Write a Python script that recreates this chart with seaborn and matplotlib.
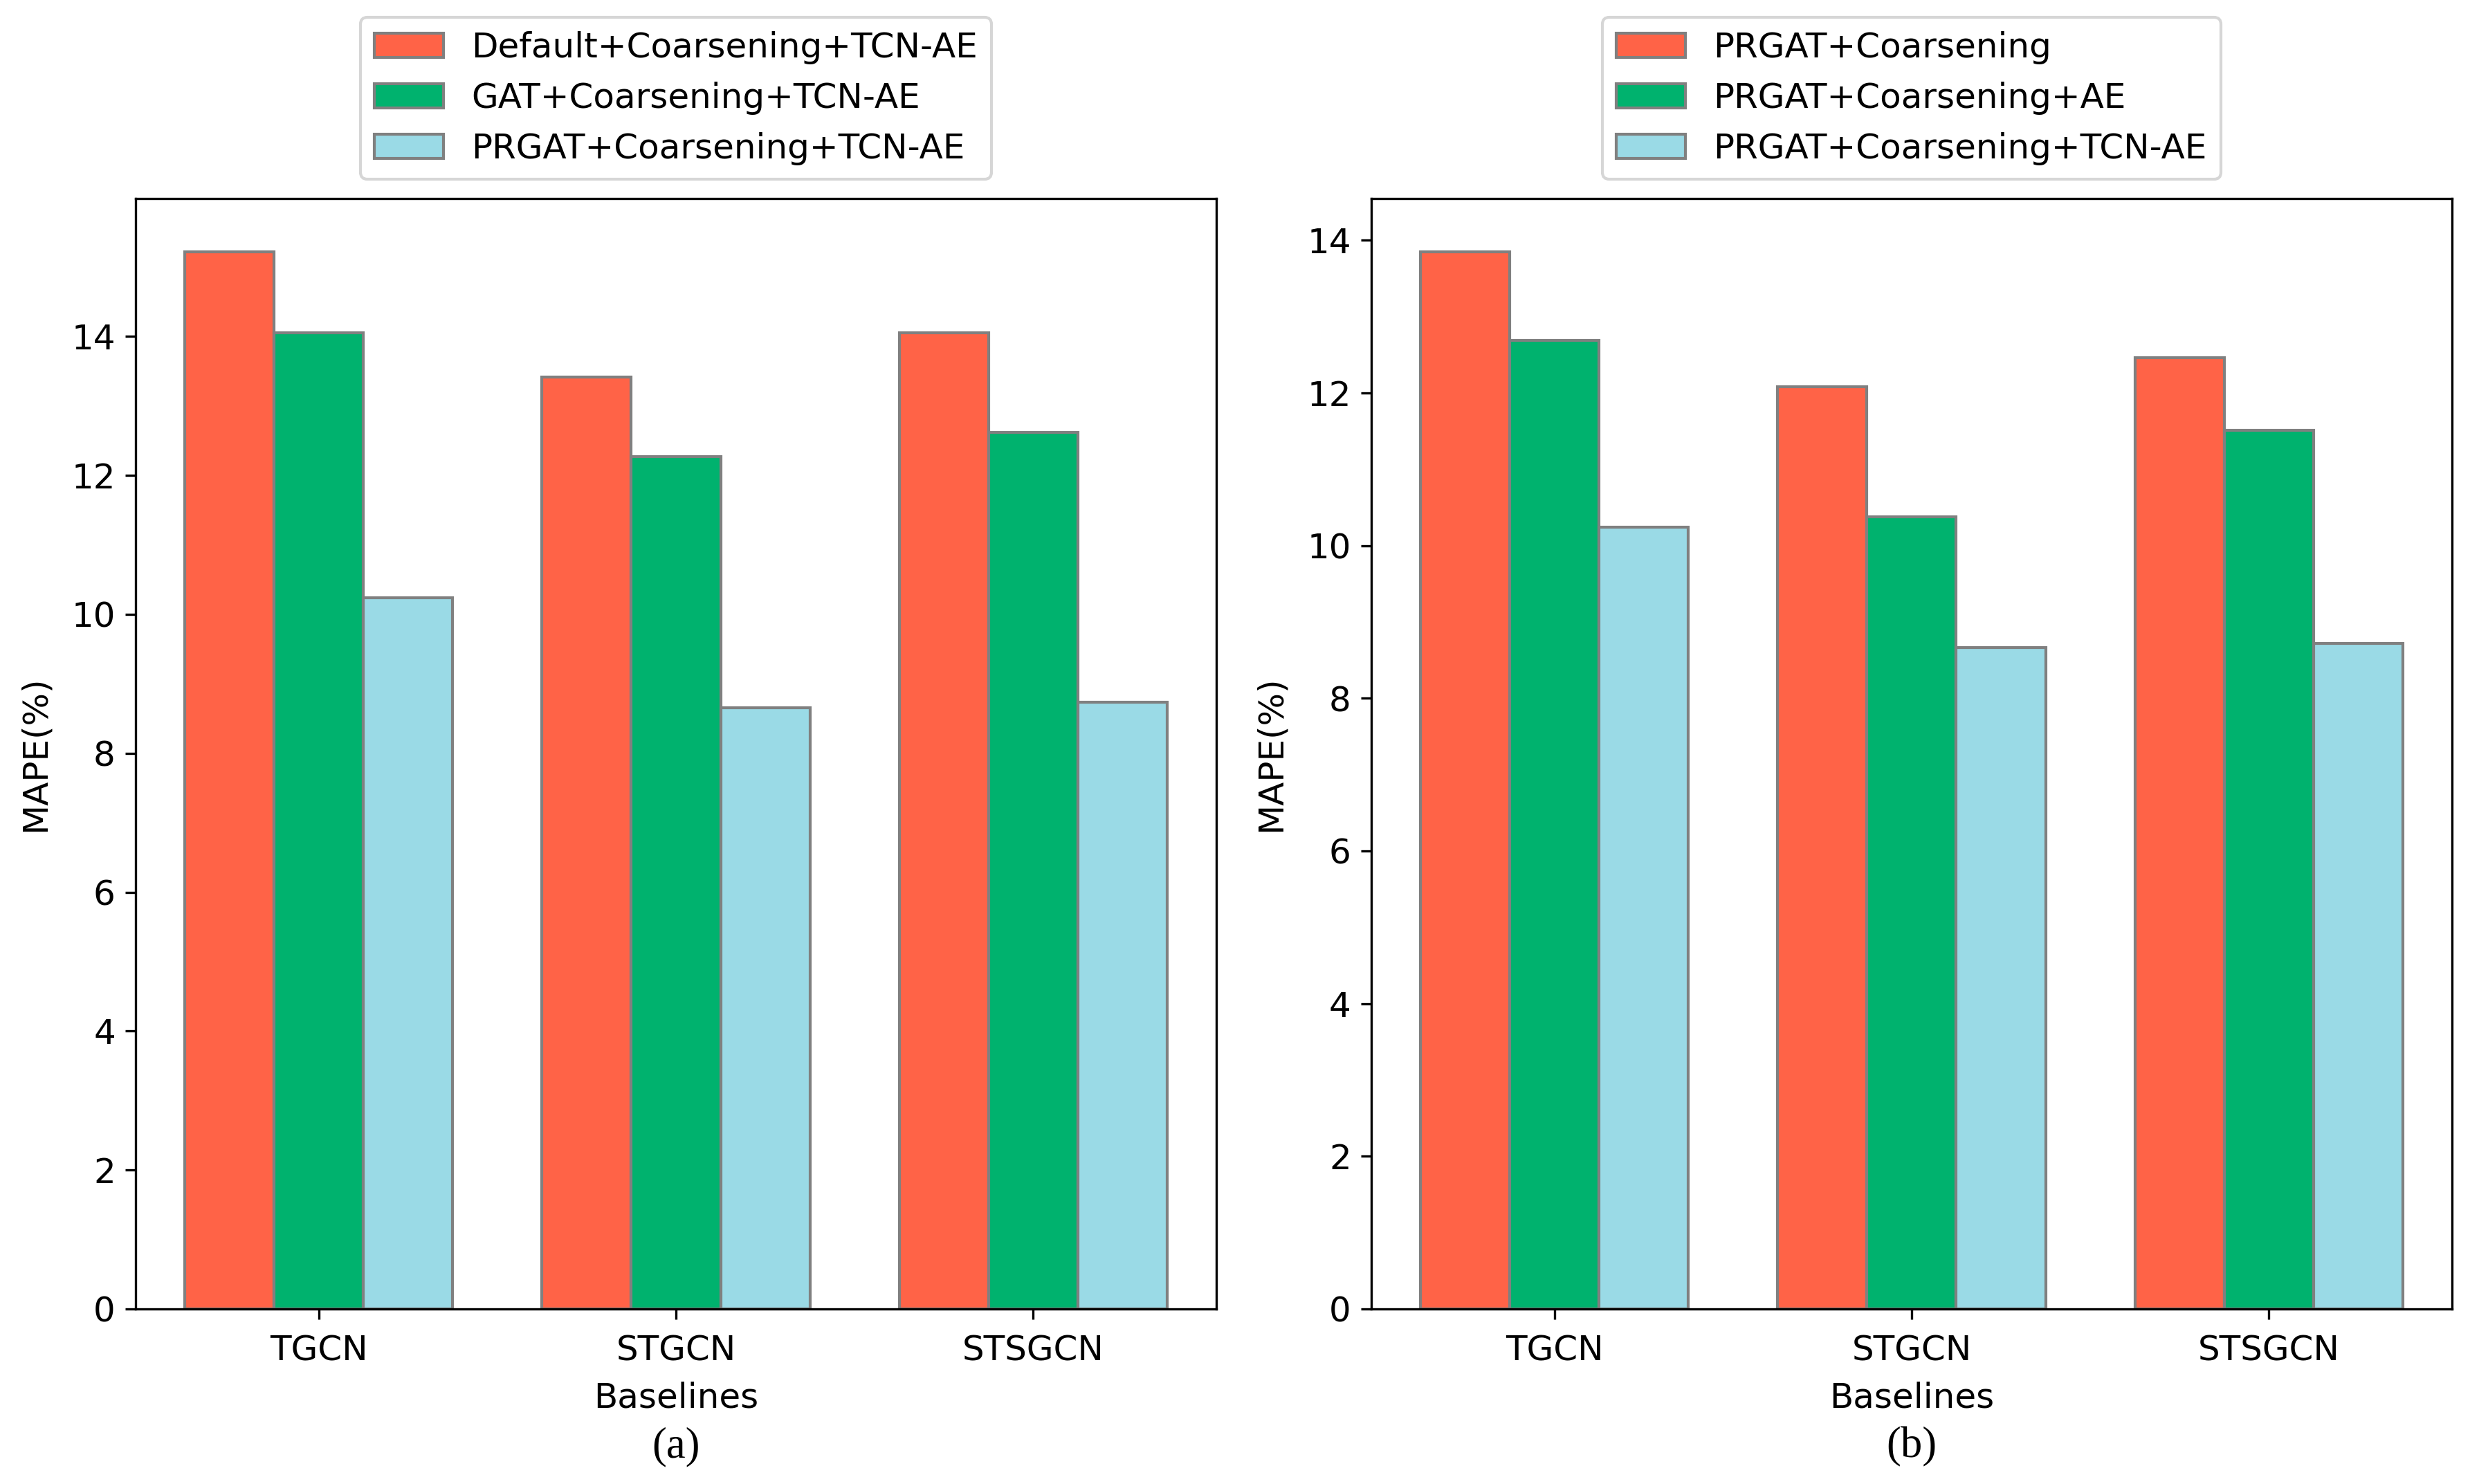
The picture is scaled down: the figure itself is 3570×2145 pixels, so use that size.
import numpy as np
import pandas as pd
import seaborn as sns
import matplotlib.pyplot as plt

# data
baselines = ['TGCN', 'STGCN', 'STSGCN']

labels_a = ['Default+Coarsening+TCN-AE', 'GAT+Coarsening+TCN-AE', 'PRGAT+Coarsening+TCN-AE']
default_tcn = [15.22, 13.42, 14.05]
gat_tcn = [14.05, 12.27, 12.62]
prgat_tcn_a = [10.24, 8.65, 8.73]

labels_b = ['PRGAT+Coarsening', 'PRGAT+Coarsening+AE', 'PRGAT+Coarsening+TCN-AE']
prgat_coarse = [13.85, 12.08, 12.46]
prgat_ae = [12.69, 10.38, 11.51]
prgat_tcn_b = [10.24, 8.66, 8.72]

colors = ['#FF6347', '#00B26E', '#9ADAE6']


def make_frame(labels, series):
    rows = []
    for lab, vals in zip(labels, series):
        for b, v in zip(baselines, vals):
            rows.append({'Baselines': b, 'MAPE': v, 'model': lab})
    return pd.DataFrame(rows)


plt.rcParams['font.size'] = 12

fig, axes = plt.subplots(1, 2, figsize=(11.9, 7.15), dpi=300)
fig.subplots_adjust(left=0.0549, right=0.9927, bottom=0.118, top=0.866, wspace=0.1434)

panels = [
    (make_frame(labels_a, [default_tcn, gat_tcn, prgat_tcn_a]), labels_a, '(a)'),
    (make_frame(labels_b, [prgat_coarse, prgat_ae, prgat_tcn_b]), labels_b, '(b)'),
]

for ax, (df, labels, tag) in zip(axes, panels):
    sns.barplot(data=df, x='Baselines', y='MAPE', hue='model', hue_order=labels,
                palette=colors, saturation=1, width=0.75, errorbar=None,
                edgecolor='grey', linewidth=1.0, ax=ax)
    ax.set_xlim(-0.5125, 2.5125)
    ax.set_ylabel('MAPE(%)', labelpad=7)
    ax.set_xlabel('Baselines', labelpad=5)
    ax.tick_params(axis='x', pad=5.2)
    sns.move_legend(ax, 'lower center', bbox_to_anchor=(0.5, 1.002),
                    title=None, frameon=True, fontsize=12)
    for s in ax.spines.values():
        s.set_visible(True)
        s.set_color('black')
    pos = ax.get_position()
    fig.text((pos.x0 + pos.x1) / 2, 0.025, tag, ha='center', va='center',
             family='Liberation Serif', fontsize=15)

fig.savefig('out.png', dpi=300)
